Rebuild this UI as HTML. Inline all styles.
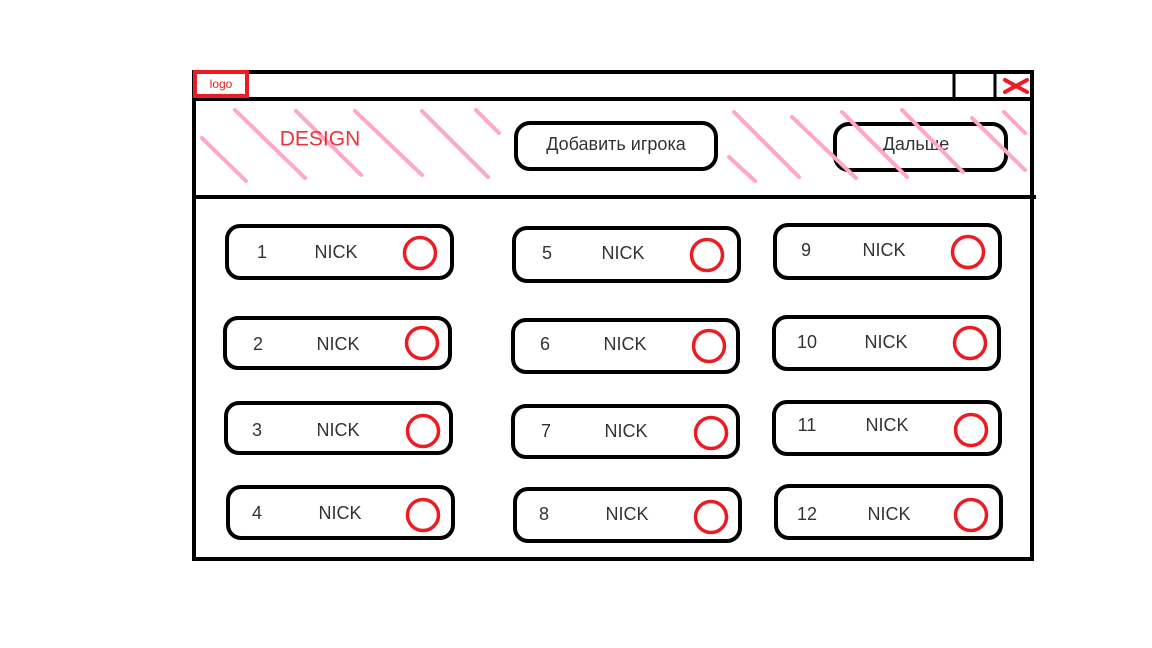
<!DOCTYPE html>
<html><head><meta charset="utf-8"><style>
html,body{margin:0;padding:0;background:#fff;width:1152px;height:648px;overflow:hidden}
svg text{font-family:"Liberation Sans","DejaVu Sans",sans-serif}
</style></head><body>
<svg id="s" width="1152" height="648" viewBox="0 0 1152 648">
 <rect x="194" y="72" width="838" height="487" fill="none" stroke="#000" stroke-width="4"/>
 <line x1="192" y1="99" x2="1034" y2="99" stroke="#000" stroke-width="4"/>
 <line x1="192" y1="197" x2="1036" y2="197" stroke="#000" stroke-width="4"/>
 <g>
  <rect x="195" y="72" width="52" height="24" fill="#fff" stroke="#ed1c24" stroke-width="4"/>
  <text x="221" y="84" font-size="12" fill="#ed1c24" text-anchor="middle" dominant-baseline="central">logo</text>
 </g>
 <rect x="954" y="72" width="41" height="27" fill="none" stroke="#000" stroke-width="3"/>
 <g stroke="#ed1c24" stroke-width="4" stroke-linecap="round">
  <line x1="1005" y1="80" x2="1027" y2="92"/>
  <line x1="1005" y1="92" x2="1027" y2="80"/>
 </g>
 <g>
  <rect x="516" y="123" width="200" height="46" rx="14" fill="none" stroke="#000" stroke-width="4"/>
  <text x="616" y="144" font-size="18" fill="#333" text-anchor="middle" dominant-baseline="central">Добавить игрока</text>
 </g>
 <g>
  <rect x="835" y="124" width="171" height="46" rx="14" fill="none" stroke="#000" stroke-width="4"/>
  <text x="916" y="144" font-size="18" fill="#333" text-anchor="middle" dominant-baseline="central">Дальше</text>
 </g>
 <g stroke="#ffa6c9" stroke-width="4" stroke-linecap="round">
  <line x1="202" y1="138" x2="246" y2="181"/>
  <line x1="235" y1="110" x2="305" y2="178"/>
  <line x1="296" y1="111" x2="361" y2="175"/>
  <line x1="355" y1="111" x2="422" y2="175"/>
  <line x1="422" y1="111" x2="488" y2="177"/>
  <line x1="476" y1="110" x2="499" y2="133"/>
  <line x1="729" y1="157" x2="755" y2="181"/>
  <line x1="734" y1="112" x2="799" y2="177"/>
  <line x1="792" y1="117" x2="856" y2="178"/>
  <line x1="842" y1="112" x2="907" y2="177"/>
  <line x1="902" y1="110" x2="963" y2="172"/>
  <line x1="972" y1="118" x2="1025" y2="170"/>
  <line x1="1004" y1="112" x2="1025" y2="133"/>
 </g>
 <text x="320" y="139" font-size="21" fill="#ed1c24" fill-opacity="0.9" text-anchor="middle" dominant-baseline="central">DESIGN</text>
 <g id="cards"></g>
</svg>
<script>
const numbers=["1","2","3","4","5","6","7","8","9","10","11","12"];
const names=["NICK","NICK","NICK","NICK","NICK","NICK","NICK","NICK","NICK","NICK","NICK","NICK"];
const geom=[
[225,224,454,280,420,253,262,252,336],
[223,316,452,370,422,343,258,344,338],
[224,401,453,455,423,431,257,430,338],
[226,485,455,540,423,515,257,513,340],
[512,226,741,283,707,255,547,253,623],
[511,318,740,374,709,346,545,344,625],
[511,404,740,459,711,433,546,431,626],
[513,487,742,543,711,517,544,514,627],
[773,223,1002,280,968,252,806,250,884],
[772,315,1001,371,970,343,807,342,886],
[772,400,1002,456,971,430,807,425,887],
[774,484,1003,540,971,515,807,514,889]];
const NS="http://www.w3.org/2000/svg";
const host=document.getElementById('cards');
numbers.forEach((n,i)=>{
 const g=geom[i];
 const grp=document.createElementNS(NS,'g');
 
 
 const r=document.createElementNS(NS,'rect');
 r.setAttribute('x',g[0]+2);r.setAttribute('y',g[1]+2);
 r.setAttribute('width',g[2]-g[0]-4);r.setAttribute('height',g[3]-g[1]-4);
 r.setAttribute('rx',13);r.setAttribute('fill','none');r.setAttribute('stroke','#000');r.setAttribute('stroke-width',4);
 
 
 grp.appendChild(r);
 const t1=document.createElementNS(NS,'text');
 t1.setAttribute('x',g[6]);t1.setAttribute('y',g[7]);t1.setAttribute('font-size',18);t1.setAttribute('fill','#333');
 t1.setAttribute('text-anchor','middle');t1.setAttribute('dominant-baseline','central');
 
 
 t1.textContent=n;grp.appendChild(t1);
 const t2=document.createElementNS(NS,'text');
 t2.setAttribute('x',g[8]);t2.setAttribute('y',g[7]);t2.setAttribute('font-size',18);t2.setAttribute('fill','#333');
 t2.setAttribute('text-anchor','middle');t2.setAttribute('dominant-baseline','central');
 
 
 t2.textContent=names[i];grp.appendChild(t2);
 const c=document.createElementNS(NS,'circle');
 c.setAttribute('cx',g[4]);c.setAttribute('cy',g[5]);c.setAttribute('r',15.5);
 c.setAttribute('fill','none');c.setAttribute('stroke','#ed1c24');c.setAttribute('stroke-width',3.5);
 
 
 grp.appendChild(c);
 host.appendChild(grp);
});
</script>
</body></html>
